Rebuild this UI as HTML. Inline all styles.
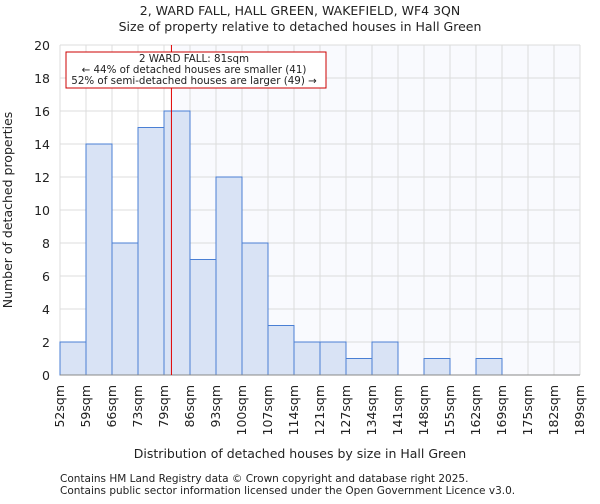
<!DOCTYPE html>
<html><head><meta charset="utf-8"><style>
body{margin:0;background:#fff;font-family:"DejaVu Sans","Liberation Sans",sans-serif;}
svg text{font-family:"DejaVu Sans","Liberation Sans",sans-serif;fill:#222;}
</style></head><body>
<svg id="c" width="600" height="500" viewBox="0 0 600 500" xmlns="http://www.w3.org/2000/svg">
<text x="300" y="15" text-anchor="middle" font-size="12.5">2, WARD FALL, HALL GREEN, WAKEFIELD, WF4 3QN</text>
<text x="300" y="31" text-anchor="middle" font-size="12.5">Size of property relative to detached houses in Hall Green</text>
<g id="plot"></g>
<text x="300" y="458" text-anchor="middle" font-size="12.5">Distribution of detached houses by size in Hall Green</text>
<text transform="translate(12,210) rotate(-90)" text-anchor="middle" font-size="12.5">Number of detached properties</text>
<text x="60" y="482" font-size="10.5" fill="#555">Contains HM Land Registry data © Crown copyright and database right 2025.</text>
<text x="60" y="494" font-size="10.5" fill="#555">Contains public sector information licensed under the Open Government Licence v3.0.</text>
</svg>
<script>
const categories=["52sqm","59sqm","66sqm","73sqm","79sqm","86sqm","93sqm","100sqm","107sqm","114sqm","121sqm","127sqm","134sqm","141sqm","148sqm","155sqm","162sqm","169sqm","175sqm","182sqm","189sqm"];
const counts=[2,14,8,15,16,7,12,8,3,2,2,1,2,0,1,0,1,0,0,0];
const yTicks=[0,2,4,6,8,10,12,14,16,18,20];
const binEdges=[52,59,66,73,79,86,93,100,107,114,121,127,134,141,148,155,162,169,175,182,189];
const propertySize=81;
const X0=60,X1=580,Y0=375,Y1=45,yMax=20;
const n=counts.length,bw=(X1-X0)/n;
const xb=i=>X0+i*bw;
const y=v=>Y0-(v/yMax)*(Y0-Y1);
function xVal(v){for(let i=0;i<binEdges.length-1;i++){if(v>=binEdges[i]&&v<=binEdges[i+1])return xb(i)+(v-binEdges[i])/(binEdges[i+1]-binEdges[i])*bw;}return X0;}
const NS="http://www.w3.org/2000/svg",g=document.getElementById('plot');
function mk(t,a,p){const e=document.createElementNS(NS,t);for(const k in a)e.setAttribute(k,a[k]);(p||g).appendChild(e);return e;}
const rx=xVal(propertySize);
const bg=mk('rect',{x:rx,y:Y1,width:X1-rx,height:Y0-Y1,fill:'#f9fafe'});


for(let i=0;i<=n;i++){const l=mk('line',{x1:xb(i),x2:xb(i),y1:Y1,y2:Y0,stroke:'#dcdcdc','stroke-width':1});

}
yTicks.forEach(t=>{const l=mk('line',{x1:X0,x2:X1,y1:y(t),y2:y(t),stroke:'#dcdcdc','stroke-width':1});


const tx=mk('text',{x:X0-10,y:y(t)+5,'text-anchor':'end','font-size':12.5});tx.textContent=t;

});
counts.forEach((v,i)=>{if(v<=0)return;const r=mk('rect',{x:xb(i),y:y(v),width:bw,height:Y0-y(v),fill:'#d9e3f5',stroke:'#4a7fd4','stroke-width':1});

});
categories.forEach((c,i)=>{const t=mk('text',{transform:`translate(${xb(i)+4},385) rotate(-90)`,'text-anchor':'end','font-size':12.5});t.textContent=c;

});
const ax=mk('line',{x1:X0,x2:X1,y1:Y0,y2:Y0,stroke:'#888'});


const ml=mk('line',{x1:rx,x2:rx,y1:Y1,y2:Y0,stroke:'#e00000','stroke-width':1});


const box=mk('rect',{x:66,y:52,width:260,height:36,fill:'#fff',stroke:'#cc0000','stroke-width':1});


["2 WARD FALL: 81sqm","← 44% of detached houses are smaller (41)","52% of semi-detached houses are larger (49) →"].forEach((s,i)=>{const t=mk('text',{x:194,y:62+i*11,'text-anchor':'middle','font-size':10.3});t.textContent=s;

});
</script>
</body></html>
